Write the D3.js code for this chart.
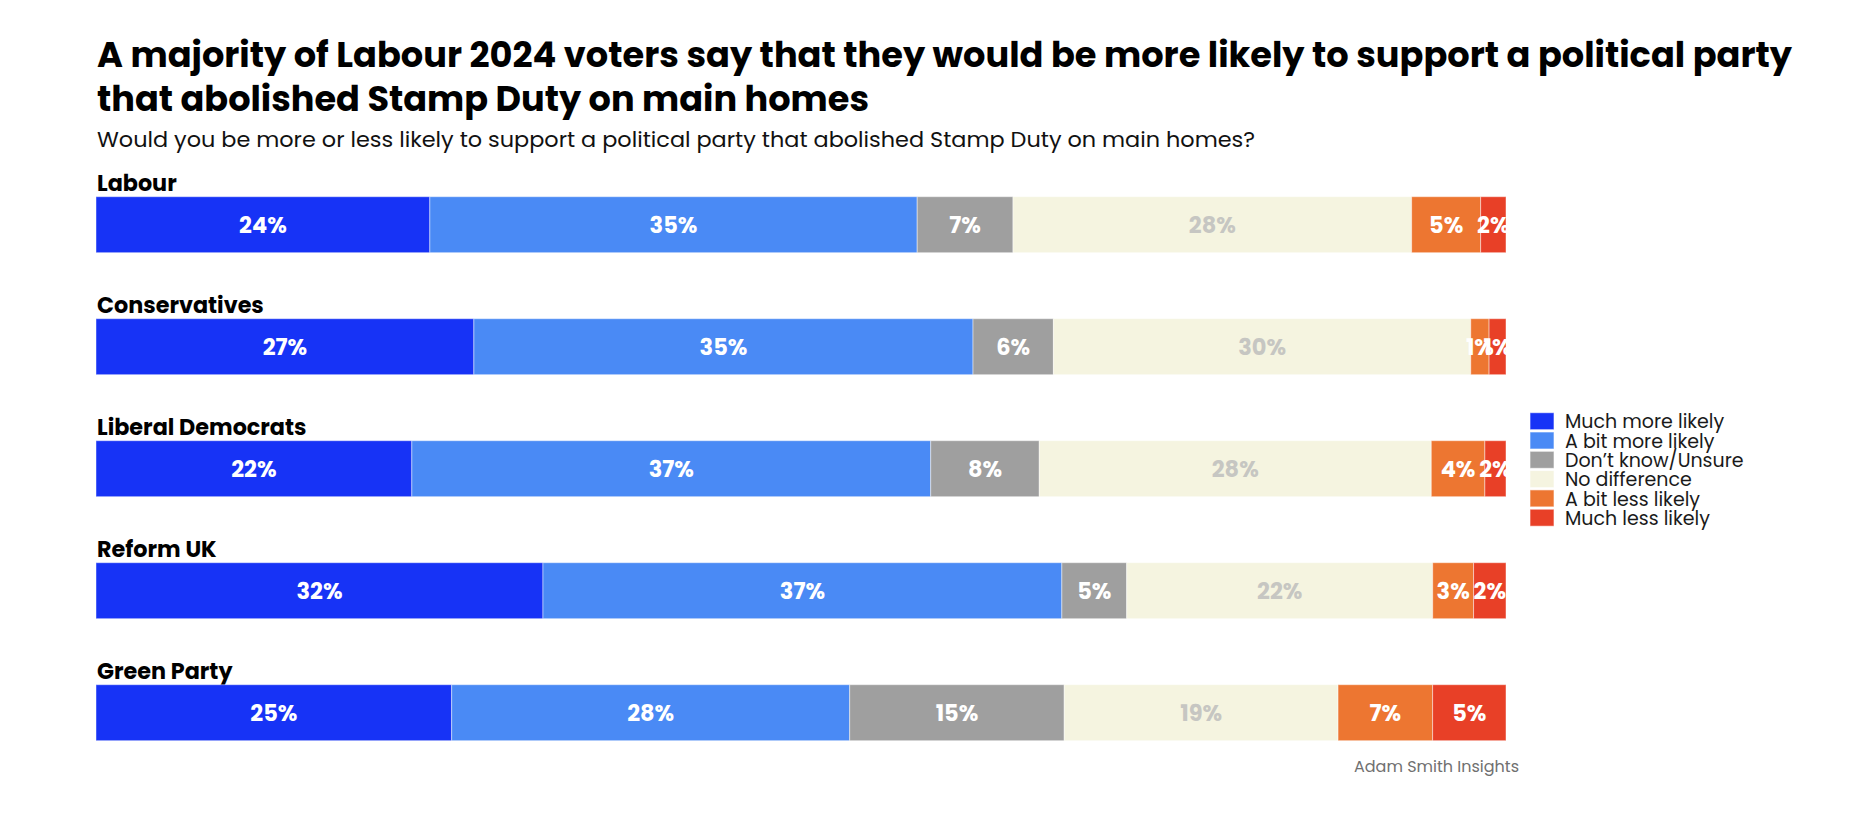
<!DOCTYPE html>
<html>
<head>
<meta charset="utf-8">
<script src="https://cdn.jsdelivr.net/npm/d3@7"></script>
<style>
  html, body { margin: 0; padding: 0; background: #ffffff; }
  svg { display: block; font-family: Poppins, Inter, "Open Sans", sans-serif; }
</style>
</head>
<body>
<svg id="chart" width="1856" height="814"></svg>
<script>
// ---- Data (estimated shares, %; labels are the rounded values) ----
const categories = ["Labour", "Conservatives", "Liberal Democrats", "Reform UK", "Green Party"];
const seriesNames = ["Much more likely", "A bit more likely", "Don\u2019t know/Unsure", "No difference", "A bit less likely", "Much less likely"];
const muchMoreLikely = [23.7, 26.8, 22.4, 31.7, 25.2];
const bitMoreLikely  = [34.6, 35.4, 36.8, 36.8, 28.2];
const dontKnow       = [6.8, 5.7, 7.7, 4.6, 15.2];
const noDifference   = [28.3, 29.6, 27.8, 21.7, 19.4];
const bitLessLikely  = [4.9, 1.3, 3.8, 2.9, 6.7];
const muchLessLikely = [1.8, 1.2, 1.5, 2.3, 5.2];
const seriesColors = ["#1733F6", "#4A8AF5", "#9F9F9F", "#F5F4E0", "#ED7631", "#E84027"];
const labelColors  = ["#ffffff", "#ffffff", "#ffffff", "#C6C6C2", "#ffffff", "#ffffff"];

const titleLines = [
  "A majority of Labour 2024 voters say that they would be more likely to support a political party",
  "that abolished Stamp Duty on main homes"
];
const subtitle = "Would you be more or less likely to support a political party that abolished Stamp Duty on main homes?";
const source = "Adam Smith Insights";

const seriesValues = [muchMoreLikely, bitMoreLikely, dontKnow, noDifference, bitLessLikely, muchLessLikely];

// ---- Build rows ----
const rows = categories.map((c, i) => {
  const vals = seriesValues.map(s => s[i]);
  const total = d3.sum(vals);
  let acc = 0;
  const segs = vals.map((v, k) => {
    const s = { cat: c, key: k, value: v, x0: acc / total, x1: (acc + v) / total };
    acc += v;
    return s;
  });
  return { cat: c, segs };
});

const svg = d3.select("#chart");
const left = 96, right = 1506;

const x = d3.scaleLinear().domain([0, 1]).range([left, right]);
const y = d3.scaleBand().domain(categories).range([196.7, 740.7]).paddingInner(0.541).paddingOuter(0);

function fit(sel, w) {
  sel.attr("textLength", w).attr("lengthAdjust", "spacingAndGlyphs");
}

// Title
svg.append("text").attr("x", 97).attr("y", 67)
  .attr("font-size", 35).attr("font-weight", 700).attr("fill", "#000")
  .text(titleLines[0]).call(fit, 1695);
svg.append("text").attr("x", 97).attr("y", 111)
  .attr("font-size", 35).attr("font-weight", 700).attr("fill", "#000")
  .text(titleLines[1]).call(fit, 772);
svg.append("text").attr("x", 97).attr("y", 146.5)
  .attr("font-size", 21).attr("font-weight", 400).attr("fill", "#111")
  .text(subtitle).call(fit, 1158);

// Clip
svg.append("defs").append("clipPath").attr("id", "barclip")
  .append("rect").attr("x", left).attr("y", 0).attr("width", right - left).attr("height", 814);

// Category labels
svg.selectAll("text.cat").data(categories).join("text")
  .attr("class", "cat")
  .attr("x", 97)
  .attr("y", d => y(d) - 6)
  .attr("font-size", 22.3).attr("font-weight", 700).attr("fill", "#000")
  .text(d => d);

const g = svg.append("g").attr("clip-path", "url(#barclip)");

const rowG = g.selectAll("g.row").data(rows).join("g").attr("class", "row");

rowG.selectAll("rect").data(d => d.segs).join("rect")
  .attr("x", d => x(d.x0))
  .attr("y", d => y(d.cat))
  .attr("width", d => x(d.x1) - x(d.x0))
  .attr("height", y.bandwidth())
  .attr("fill", d => seriesColors[d.key])
  .attr("stroke", "rgba(255,255,255,0.45)")
  .attr("stroke-width", 1);

rowG.selectAll("text").data(d => d.segs).join("text")
  .attr("x", d => (x(d.x0) + x(d.x1)) / 2)
  .attr("y", d => y(d.cat) + y.bandwidth() / 2)
  .attr("dy", "0.36em")
  .attr("text-anchor", "middle")
  .attr("font-size", 22.5).attr("font-weight", 700)
  .attr("fill", d => labelColors[d.key])
  .text(d => Math.round(d.value) + "%");

// Legend
const lg = svg.append("g").attr("transform", "translate(1530,412.7)");
const li = lg.selectAll("g").data(seriesNames).join("g")
  .attr("transform", (d, i) => `translate(0,${i * 19.3})`);
li.append("rect").attr("width", 24).attr("height", 17)
  .attr("fill", (d, i) => seriesColors[i])
  .attr("stroke", "rgba(255,255,255,0.6)").attr("stroke-width", 1);
li.append("text").attr("x", 35).attr("y", 15.6)
  .attr("font-size", 19).attr("fill", "#1a1a1a")
  .text(d => d);

// Source
svg.append("text").attr("x", 1519).attr("y", 772)
  .attr("text-anchor", "end")
  .attr("font-size", 16).attr("fill", "#707070")
  .text(source);
</script>
</body>
</html>
